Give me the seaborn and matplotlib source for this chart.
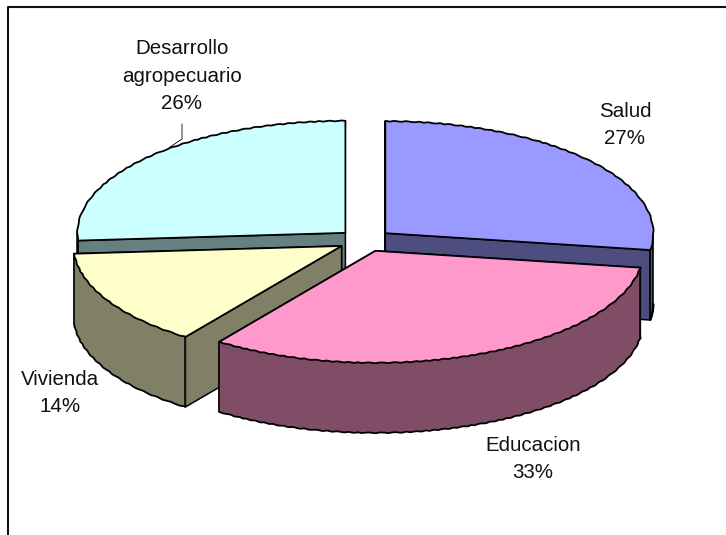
import numpy as np
import matplotlib
matplotlib.use('Agg')
import matplotlib.pyplot as plt
import seaborn as sns

categories = ['Salud', 'Educacion', 'Vivienda', 'Desarrollo\nagropecuario']
values = [27.4, 32.5, 14, 26.1]
percent_labels = ['27%', '33%', '14%', '26%']

top_colors = ['#9999FF', '#FF99CC', '#FFFFCC', '#CCFFFF']
side_colors = ['#4D4D80', '#804D66', '#808066', '#668080']

# label centres in pixels
label_x = [625, 533, 60, 182]
label_y = [125, 459, 393, 76]

W, H = 726, 535
cx, cy = 365, 240.5
rx, ry = 268, 112
depth = 70 / ry

sns.set_theme(style='white')
plt.rcParams['font.family'] = ['Liberation Sans', 'DejaVu Sans']

fig = plt.figure(figsize=(W / 100, H / 100), dpi=100)
ax = fig.add_axes([0, 0, 1, 1])

wedges, _ = ax.pie(values, explode=[0.1] * 4, startangle=90, counterclock=False,
                   colors=top_colors, wedgeprops={'linewidth': 0})

# pie forces equal aspect, the chart is a flattened one
ax.set_aspect('auto')
ax.set_xlim(-cx / rx, (W - cx) / rx)
ax.set_ylim(-(H - cy) / ry, cy / ry)
ax.axis('off')


def to_x(px):
    return (px - cx) / rx


def to_y(py):
    return (cy - py) / ry


def arc(w, t1, t2):
    t = np.radians(np.linspace(t1, t2, 120))
    return w.center[0] + w.r * np.cos(t), w.center[1] + w.r * np.sin(t)


def wavy_line(xs, ys, z):
    line, = ax.plot(xs, ys, color='black', lw=1.3, zorder=z)
    line.set_sketch_params(0.35, 10, 2)


# back slices first
order = [3, 0, 2, 1]
for n, i in enumerate(order):
    w = wedges[i]
    z = 10 + 4 * n
    w.set_zorder(z + 2)
    side = side_colors[i]
    x0, y0 = w.center

    # radial walls
    for th in (w.theta1, w.theta2):
        ex, ey = arc(w, th, th)
        ex, ey = ex[0], ey[0]
        ax.fill([x0, ex, ex, x0], [y0, ey, ey - depth, y0 - depth], fc=side, ec='black',
                lw=1.1, zorder=z)

    # outer wall, only the front part of the rim
    t = np.linspace(w.theta1, w.theta2, 240)
    t = t[np.sin(np.radians(t)) < 0]
    if len(t) > 1:
        wx, wy = arc(w, t[0], t[-1])
        ax.fill(np.r_[wx, wx[::-1]], np.r_[wy, wy[::-1] - depth], fc=side, ec='none', zorder=z + 1)
        wavy_line(wx, wy - depth, z + 1)
        ax.plot([wx[0], wx[0]], [wy[0], wy[0] - depth], color='black', lw=1.1, zorder=z + 1)
        ax.plot([wx[-1], wx[-1]], [wy[-1], wy[-1] - depth], color='black', lw=1.1, zorder=z + 1)

    # rim and radii of the top face
    rim_x, rim_y = arc(w, w.theta1, w.theta2)
    wavy_line(rim_x, rim_y, z + 3)
    ax.plot([rim_x[0], x0, rim_x[-1]], [rim_y[0], y0, rim_y[-1]], color='black', lw=1.3, zorder=z + 3)

for name, pct, lx, ly in zip(categories, percent_labels, label_x, label_y):
    ax.text(to_x(lx), to_y(ly), f'{name}\n{pct}', ha='center', va='center', fontsize=14.8,
            color='#111111', linespacing=1.55, zorder=50)

# leader line of the last label
ax.plot([to_x(182), to_x(182), to_x(170)], [to_y(124), to_y(139), to_y(147)], color='black', lw=0.6, zorder=50)

# chart border, cut by the edges of the picture
ax.plot([to_x(8), to_x(8), to_x(W)], [to_y(H), to_y(7), to_y(7)], color='#111111', lw=1.5, zorder=60)

fig.savefig('out.png', dpi=100)
